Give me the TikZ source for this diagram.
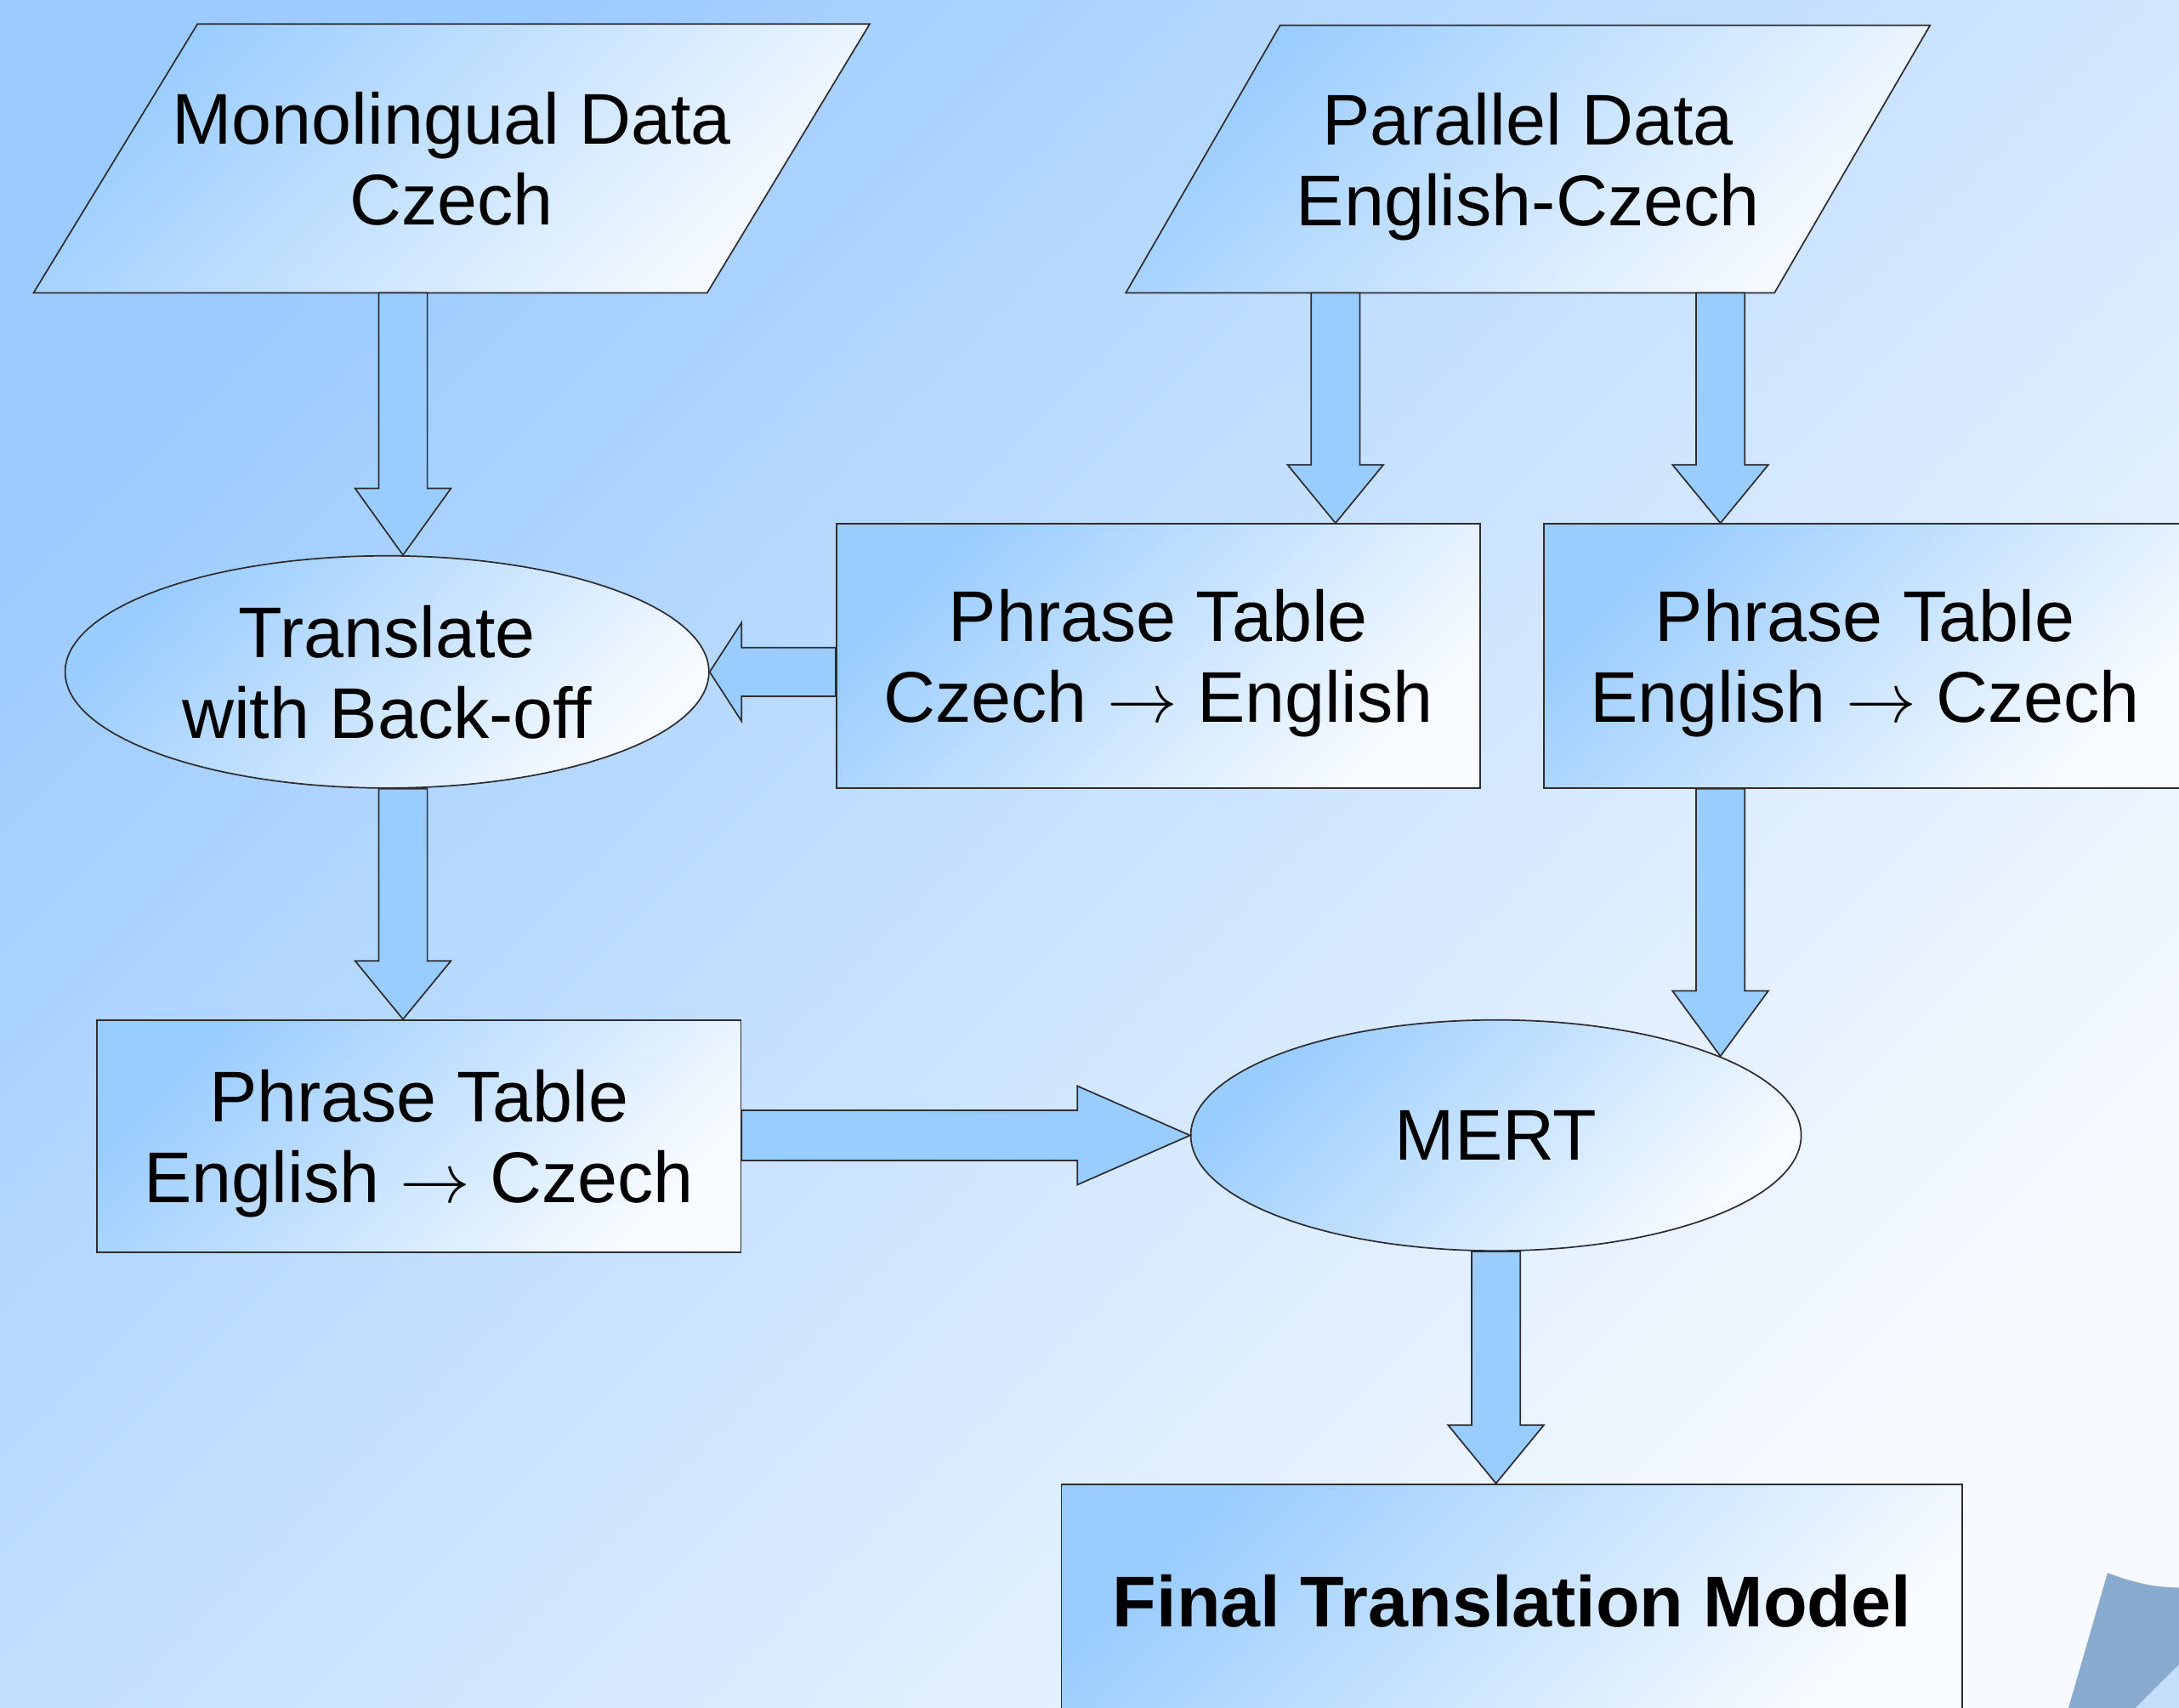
\documentclass[tikz,border=0pt]{standalone}
\usepackage{fontspec}
\setmainfont{Liberation Sans}
\usetikzlibrary{shapes.geometric,calc}
\definecolor{bgA}{RGB}{156,203,255}
\definecolor{bgB}{RGB}{247,250,255}
\definecolor{shA}{RGB}{153,204,255}
\definecolor{shB}{RGB}{248,251,255}
\definecolor{arr}{RGB}{153,204,255}
\definecolor{edge}{RGB}{45,45,50}
\definecolor{curl}{RGB}{136,170,206}
\definecolor{curlL}{RGB}{196,222,250}
\pgfdeclarelayer{bgpage}\pgfdeclarelayer{background}\pgfsetlayers{bgpage,background,main}
\newcommand\txtfont{\fontsize{14.7}{16.6}\selectfont}
\newcommand\ar{$\rightarrow$}
% vertical block arrow: #1 start, #2 tip, #3 head length
\newcommand\vblk[3]{%
  \draw[blk] ($(#1)+(-17.5,0)$) -- ($(#2)+(-17.5,{-(#3)})$) -- ($(#2)+(-34.5,{-(#3)})$) -- (#2)
    -- ($(#2)+(34.5,{-(#3)})$) -- ($(#2)+(17.5,{-(#3)})$) -- ($(#1)+(17.5,0)$) -- cycle;}
% horizontal block arrow: #1 start, #2 tip, #3 signed head length, #4 shaft half, #5 head half
\newcommand\hblk[5]{%
  \draw[blk] ($(#1)+(0,{-(#4)})$) -- ($(#2)+({-(#3)},{-(#4)})$) -- ($(#2)+({-(#3)},{-(#5)})$) -- (#2)
    -- ($(#2)+({-(#3)},#5)$) -- ($(#2)+({-(#3)},#4)$) -- ($(#1)+(0,#4)$) -- cycle;}
\begin{document}
\begin{tikzpicture}[x=0.01cm,y=-0.01cm,
  shp/.style={draw=edge, line width=0.3pt, top color=shA, bottom color=shB, shading angle=45,
    font=\txtfont, align=center, inner sep=0pt, text depth=0pt},
  boxn/.style={shp, rectangle},
  elln/.style={shp, ellipse},
  txtn/.style={rectangle, font=\txtfont, align=center, inner sep=0pt, text depth=0pt},
  pshape/.style={draw=edge, line width=0.3pt, top color=shA, bottom color=shB, shading angle=45},
  blk/.style={draw=edge, line width=0.3pt, fill=arr, line join=miter}]
\useasboundingbox (0,0) rectangle (1568,1229);
\begin{pgfonlayer}{bgpage}
  \path[top color=bgA, bottom color=bgB, shading angle=45] (0,0) rectangle (1568,1229);
\end{pgfonlayer}
\clip (0,0) rectangle (1568,1229);

% nodes
\node[txtn, minimum width=6.00cm, minimum height=1.92cm] (mono) at (325,114) {Monolingual Data\\Czech};
\node[txtn, minimum width=5.77cm, minimum height=1.91cm] (par) at (1099.5,114.5) {Parallel Data\\English-Czech};
\node[elln, minimum width=4.63cm, minimum height=1.67cm] (trans) at (278.5,483.5) {Translate\\with Back-off};
\node[boxn, minimum width=4.63cm, minimum height=1.90cm] (pt1) at (833.5,472) {Phrase Table\\Czech \ar{} English};
\node[boxn, minimum width=4.62cm, minimum height=1.90cm] (pt2) at (1342,472) {Phrase Table\\English \ar{} Czech};
\node[boxn, minimum width=4.63cm, minimum height=1.67cm] (pt3) at (301.5,817.5) {Phrase Table\\English \ar{} Czech};
\node[elln, minimum width=4.39cm, minimum height=1.66cm] (mert) at (1076.5,817) {MERT};
\node[boxn, minimum width=6.48cm, minimum height=1.68cm, font=\txtfont\bfseries] (final) at (1088,1152) {Final Translation Model};

% parallelogram outlines behind their text
\begin{pgfonlayer}{background}
  \path[pshape] (mono.south west) -- ($(mono.north west)+(118,0)$) -- (mono.north east) -- ($(mono.south east)+(-117,0)$) -- cycle;
  \path[pshape] (par.south west) -- ($(par.north west)+(111,0)$) -- (par.north east) -- ($(par.south east)+(-112,0)$) -- cycle;
\end{pgfonlayer}

% arrow tips
\coordinate (aT) at ($(trans.north)+(11.5,0)$);
\coordinate (bT) at ($(pt1.north)+(127.5,0)$);
\coordinate (cT) at ($(pt2.north)+(-104,0)$);
\coordinate (eT) at ($(pt3.north)+(-11.5,0)$);
\coordinate (gT) at ($(mert.center)+(161.5,-57)$);
\coordinate (hT) at (mert.south |- final.north);

% connectors
\vblk{aT |- mono.south}{aT}{48}
\vblk{bT |- par.south}{bT}{42}
\vblk{cT |- par.south}{cT}{42}
\hblk{pt1.west |- trans.east}{trans.east}{-23}{17.5}{35.5}
\vblk{eT |- trans.south}{eT}{42}
\hblk{pt3.east |- mert.west}{mert.west}{81}{18}{35.5}
\vblk{gT |- pt2.south}{gT}{47}
\vblk{mert.south}{hT}{42}

% page curl at bottom right
\fill[curl] (1516.6,1131.8) .. controls (1530,1137) and (1548,1142.5) .. (1568,1142.4) -- (1568,1198) -- (1537,1229) -- (1488.5,1229) -- cycle;
\fill[curlL] (1568,1198) -- (1537,1229) -- (1568,1229) -- cycle;
\end{tikzpicture}
\end{document}
